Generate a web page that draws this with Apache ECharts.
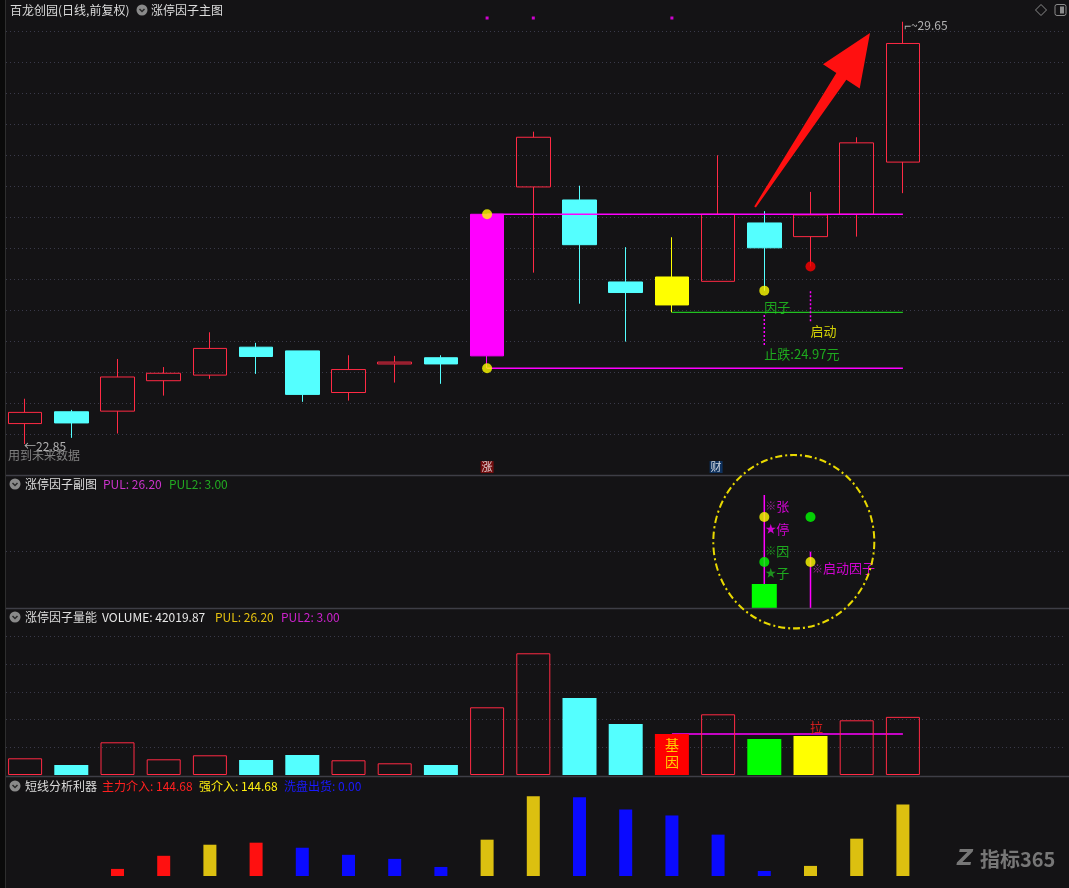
<!DOCTYPE html>
<html><head><meta charset="utf-8">
<script src="https://cdn.jsdelivr.net/npm/echarts@6/dist/echarts.min.js"></script>
<style>html,body{margin:0;padding:0;background:#141315;}#c{width:1069px;height:888px;}</style>
</head><body><div id="c"></div>
<script>
// ---------- data ----------
const categories = ['D01','D02','D03','D04','D05','D06','D07','D08','D09','D10','D11','D12','D13','D14','D15','D16','D17','D18','D19','D20','F1','F2','F3'];
const kOpen  = [23.18,23.37,23.38,23.87,23.96,24.41,24.35,23.68,24.14,24.24,24.27,26.99,26.78,25.46,25.09,25.47,26.41,26.19,26.55,27.39];
const kClose = [23.36,23.19,23.93,23.99,24.39,24.26,23.65,24.05,24.17,24.14,26.55,27.79,26.06,25.29,25.54,26.55,26.01,26.54,27.70,29.30];
const kLow   = [22.85,22.95,23.02,23.63,23.90,23.98,23.53,23.55,23.84,23.82,24.07,25.61,25.11,24.50,24.97,25.47,25.32,25.71,26.19,26.89];
const kHigh  = [23.58,23.40,24.22,24.09,24.65,24.48,24.35,24.28,24.27,24.28,26.55,27.88,27.01,26.02,26.18,27.50,26.60,26.91,27.79,29.65];
const volume = [12070,7230,23640,11350,14240,10840,14460,10630,8460,7230,48940,87980,55660,36870,29640,43880,26020,28190,39540,42019.87];
const limitUpLine = [null,null,null,null,null,null,null,null,null,null,26.55,26.55,26.55,26.55,26.55,26.55,26.55,26.55,26.55,26.55];
const limitLowLine = [null,null,null,null,null,null,null,null,null,null,24.07,24.07,24.07,24.07,24.07,24.07,24.07,24.07,24.07,24.07];
const stopLine = [null,null,null,null,null,null,null,null,null,null,null,null,null,null,24.97,24.97,24.97,24.97,24.97,24.97];
const volLine = [null,null,null,null,null,null,null,null,null,null,null,null,null,null,29640,29640,29640,29640,29640,29640];
const mainIn   = [null,null,14.3,40.8,null,67.3,null,null,null,null,null,null,null,null,null,null,null,null,null,null];
const strongIn = [null,null,null,null,63.2,null,null,null,null,null,73.4,161.0,null,null,null,null,null,20.4,75.4,144.68];
const washOut  = [null,null,null,null,null,null,57.1,42.8,34.6,18.3,null,null,159.0,134.5,122.3,83.6,10.2,null,null,null];
const sub1Bar = [null,null,null,null,null,null,null,null,null,null,null,null,null,null,null,null,3.0,null,null,null];
const yellowDots = [[10,26.55],[10,24.07],[16,25.32]];
const redDots = [[17,25.71]];
const topMarks = [[10,29.71],[11,29.71],[14,29.71]];
const arrowData = [15.80,26.667,18.288,29.469];

// ---------- styles ----------
const RED='#ff2a44', CYAN='#54ffff', MAG='#ff00ff', YEL='#ffff00', GRN='#00ff00', BG='#141315', GRIDC='#3a3a4a';
const FONT = '"Noto Sans CJK SC","Noto Sans",sans-serif';
const L = 2, W = 1062.6;

const candleData = kOpen.map((o,i)=>{
  const it = {value:[o,kClose[i],kLow[i],kHigh[i]]};
  if(i===10) it.itemStyle={color:MAG,color0:MAG,borderColor:MAG,borderColor0:MAG};
  if(i===14) it.itemStyle={color:YEL,color0:YEL,borderColor:YEL,borderColor0:YEL};
  return it;
});
const volData = volume.map((v,i)=>{
  const up = kClose[i]>=kOpen[i];
  let st = up ? {color:'transparent',borderColor:RED,borderWidth:1} : {color:CYAN,borderColor:CYAN,borderWidth:0};
  if(i===14) st={color:'#ff0000',borderWidth:0};
  if(i===16) st={color:GRN,borderWidth:0};
  if(i===17) st={color:YEL,borderWidth:0};
  return {value:v,itemStyle:st};
});

function txt(x,y,pt,fmt,color,size,opt){
  return Object.assign({name:'t',type:'scatter',xAxisIndex:x,yAxisIndex:y,symbolSize:0,silent:true,z:8,
    data:[pt],label:{show:true,position:'right',distance:0,formatter:fmt,color:color,fontSize:size||13,fontFamily:FONT}},opt||{});
}
const dotted = {type:[1,3],color:GRIDC,width:1};

// ---------- graphic (headers / decor) ----------
const headers = [
 [10,10,'百龙创园(日线,前复权)','#dcdcdc'],[151,10,'涨停因子主图','#dcdcdc'],
 [25,484,'涨停因子副图','#dcdcdc'],[103,484,'PUL: 26.20','#cc33cc'],[169,484,'PUL2: 3.00','#22aa22'],
 [25,617,'涨停因子量能','#dcdcdc'],[102,617,'VOLUME: 42019.87','#e8e8e8'],[215,617,'PUL: 26.20','#e6c210'],[281,617,'PUL2: 3.00','#cc22cc'],
 [25,786,'短线分析利器','#dcdcdc'],[102,786,'主力介入: 144.68','#ff2020'],[199,786,'强介入: 144.68','#ffee10'],[284,786,'洗盘出货: 0.00','#1a1aff']
];
const graphic = [];
graphic.push({type:'rect',shape:{x:0,y:0,width:5,height:888},style:{fill:'#0a0a0a'},z:100});
graphic.push({type:'line',shape:{x1:5.5,y1:0,x2:5.5,y2:888},style:{stroke:'#2e2e2e',lineWidth:1},z:100});
[475.5,608.5,776.5].forEach(y=>graphic.push({type:'line',shape:{x1:6,y1:y,x2:1069,y2:y},style:{stroke:'#3e3e46',lineWidth:1.5},z:100}));
headers.forEach(h=>graphic.push({type:'text',x:h[0],y:h[1],style:{text:h[2],fill:h[3],font:'12px '+FONT,verticalAlign:'middle'},z:101}));
[[142,10],[15,484],[15,617],[15,786]].forEach(c=>{
  graphic.push({type:'circle',shape:{cx:c[0],cy:c[1],r:5.5},style:{fill:'#8a8a8a'},z:101});
  graphic.push({type:'polyline',shape:{points:[[c[0]-2.5,c[1]-1],[c[0],c[1]+1.5],[c[0]+2.5,c[1]-1]]},style:{stroke:'#2a2a2a',lineWidth:1.5,fill:null},z:102});
});
graphic.push({type:'polygon',shape:{points:[[1041,4.5],[1046.5,10],[1041,15.5],[1035.5,10]]},style:{stroke:'#8a8a8a',fill:null,lineWidth:1},z:101});
graphic.push({type:'rect',shape:{x:1055,y:4.5,width:11,height:11,r:2},style:{stroke:'#8a8a8a',fill:null,lineWidth:1},z:101});
graphic.push({type:'rect',shape:{x:1060,y:6.5,width:4,height:7},style:{fill:'#8a8a8a'},z:101});
graphic.push({type:'text',x:8,y:455,style:{text:'用到未来数据',fill:'#808080',font:'12px '+FONT,verticalAlign:'middle'},z:101});
graphic.push({type:'circle',shape:{cx:0,cy:0,r:80.5},x:793.8,y:541.7,scaleY:1.077,style:{stroke:'#e8d800',fill:null,lineWidth:2,lineDash:[7,3,2,3]},z:101});
graphic.push({type:'text',x:957,y:859,style:{text:'Z',fill:'#777',font:'bold italic 22px "DejaVu Sans"',verticalAlign:'middle'},z:101});
graphic.push({type:'text',x:980,y:859,style:{text:'指标365',fill:'#777',font:'bold 20px '+FONT,verticalAlign:'middle'},z:101});

// ---------- option ----------
const hid = {axisLine:{show:false},axisTick:{show:false},axisLabel:{show:false}};
const option = {
  backgroundColor: BG, animation:false,
  grid:[
    {left:L,width:W,top:0,height:465.8},
    {left:L,width:W,top:476,height:132},
    {left:L,width:W,top:609,height:166},
    {left:L,width:W,top:777,height:99}
  ],
  xAxis:[
    Object.assign({type:'category',data:categories,gridIndex:0,boundaryGap:true,splitLine:{show:false}},hid),
    Object.assign({type:'value',gridIndex:0,min:-0.5,max:22.5,splitLine:{show:false}},hid),
    Object.assign({type:'category',data:categories,gridIndex:1,splitLine:{show:false}},hid),
    Object.assign({type:'category',data:categories,gridIndex:2,splitLine:{show:false}},hid),
    Object.assign({type:'category',data:categories,gridIndex:3,splitLine:{show:false}},hid)
  ],
  yAxis:[
    Object.assign({type:'value',gridIndex:0,min:22.5,max:30,interval:0.5,splitLine:{show:true,showMinLine:false,showMaxLine:false,lineStyle:dotted}},hid),
    Object.assign({type:'value',gridIndex:1,min:0,max:16.5,splitLine:{show:false}},hid),
    Object.assign({type:'value',gridIndex:2,min:0,max:120000,interval:20000,splitLine:{show:true,showMinLine:false,showMaxLine:false,lineStyle:dotted}},hid),
    Object.assign({type:'value',gridIndex:3,min:0,max:200,splitLine:{show:false}},hid)
  ],
  graphic: graphic,
  series:[
    {type:'candlestick',xAxisIndex:0,yAxisIndex:0,data:candleData,barWidth:34,z:2,
      itemStyle:{color:'transparent',color0:CYAN,borderColor:RED,borderColor0:CYAN,borderWidth:1}},
    {type:'line',xAxisIndex:0,yAxisIndex:0,data:limitUpLine,symbol:'none',lineStyle:{color:MAG,width:1.5},z:4,silent:true},
    {type:'line',xAxisIndex:0,yAxisIndex:0,data:limitLowLine,symbol:'none',lineStyle:{color:MAG,width:1.5},z:4,silent:true},
    {type:'line',xAxisIndex:0,yAxisIndex:0,data:stopLine,symbol:'none',lineStyle:{color:'#20c020',width:1.2},z:4,silent:true},
    {type:'line',xAxisIndex:0,yAxisIndex:0,data:[[16,24.93],[16,24.43]],symbol:'none',lineStyle:{color:MAG,width:1.5,type:[2,2]},z:4,silent:true},
    {type:'line',xAxisIndex:0,yAxisIndex:0,data:[[17,25.31],[17,24.80]],symbol:'none',lineStyle:{color:MAG,width:1.5,type:[2,2]},z:4,silent:true},
    {type:'scatter',xAxisIndex:0,yAxisIndex:0,data:yellowDots,symbolSize:10,itemStyle:{color:YEL},z:6,silent:true},
    {type:'scatter',xAxisIndex:0,yAxisIndex:0,data:redDots,symbolSize:10,itemStyle:{color:'#ff0000'},z:6,silent:true},
    {type:'scatter',xAxisIndex:0,yAxisIndex:0,data:topMarks,symbol:'rect',symbolSize:3,itemStyle:{color:MAG},z:6,silent:true},
    txt(0,0,[16,25.057],'因子','#20d020',13),
    txt(0,0,[17,24.67],'启动',YEL,13),
    txt(0,0,[16,24.30],'止跌:24.97元','#20d020',13),
    txt(0,0,[0,22.85],'←22.85','#d8d8d8',12,{label:{show:true,position:'right',distance:0,offset:[-1,2],formatter:'←22.85',color:'#d8d8d8',fontSize:12,fontFamily:FONT}}),
    txt(0,0,[19,29.65],'⌐~29.65','#d8d8d8',12,{label:{show:true,position:'right',distance:1,offset:[0,4],formatter:'⌐~29.65',color:'#d8d8d8',fontSize:12,fontFamily:FONT}}),
    txt(0,0,[10,22.52],'涨','#fff',11,{label:{show:true,position:'inside',offset:[0,2.5],formatter:'涨',color:'#fff',fontSize:11,fontFamily:FONT,backgroundColor:'#8a0c0c',padding:[1,1,0,1]}}),
    txt(0,0,[15,22.52],'财','#fff',11,{label:{show:true,position:'inside',offset:[-2,2.5],formatter:'财',color:'#fff',fontSize:11,fontFamily:FONT,backgroundColor:'#0c3a70',padding:[1,1,0,1]}}),
    {type:'custom',xAxisIndex:1,yAxisIndex:0,z:10,silent:true,data:[arrowData],
      renderItem:function(params,api){
        const s=api.coord([api.value(0),api.value(1)]), t=api.coord([api.value(2),api.value(3)]);
        const dx=t[0]-s[0], dy=t[1]-s[1], len=Math.hypot(dx,dy);
        const ux=dx/len, uy=dy/len, nx=-uy, ny=ux;
        const hl=52, hw=22, w0=1, w1=6;
        const bx=t[0]-ux*hl, by=t[1]-uy*hl;
        const pts=[[s[0]+nx*w0,s[1]+ny*w0],[bx+nx*w1,by+ny*w1],[bx+nx*hw,by+ny*hw],[t[0],t[1]],[bx-nx*hw,by-ny*hw],[bx-nx*w1,by-ny*w1],[s[0]-nx*w0,s[1]-ny*w0]];
        return {type:'polygon',shape:{points:pts},style:{fill:'#ff1010'}};
      }},
    // sub panel 1
    {type:'bar',xAxisIndex:2,yAxisIndex:1,data:sub1Bar,barWidth:25,itemStyle:{color:GRN},z:3,silent:true,
      markLine:{symbol:'none',silent:true,label:{show:false},lineStyle:dotted,data:[{yAxis:7.125}]}},
    {type:'line',xAxisIndex:2,yAxisIndex:1,data:[[16,14.125],[16,3]],symbol:'none',lineStyle:{color:MAG,width:1.5},z:4,silent:true},
    {type:'line',xAxisIndex:2,yAxisIndex:1,data:[[17,7.125],[17,0]],symbol:'none',lineStyle:{color:MAG,width:1.5},z:4,silent:true},
    {type:'scatter',xAxisIndex:2,yAxisIndex:1,data:[[16,11.375],[17,5.75]],symbolSize:10,itemStyle:{color:YEL},z:6,silent:true},
    {type:'scatter',xAxisIndex:2,yAxisIndex:1,data:[[17,11.375],[16,5.75]],symbolSize:10,itemStyle:{color:GRN},z:6,silent:true},
    txt(2,1,[16,12.75],'{a|※}{b|张}',MAG,13,{label:{show:true,position:'right',distance:1,formatter:'{a|※}{b|张}',rich:{a:{color:'#b22fb2',fontSize:11,fontFamily:FONT},b:{color:MAG,fontSize:13,fontFamily:FONT}}}}),
    txt(2,1,[16,9.84],'{a|★}{b|停}',MAG,13,{label:{show:true,position:'right',distance:1,formatter:'{a|★}{b|停}',rich:{a:{color:MAG,fontSize:11,fontFamily:FONT},b:{color:MAG,fontSize:13,fontFamily:FONT}}}}),
    txt(2,1,[16,7.125],'{a|※}{b|因}',GRN,13,{label:{show:true,position:'right',distance:1,formatter:'{a|※}{b|因}',rich:{a:{color:'#20b020',fontSize:11,fontFamily:FONT},b:{color:'#20d020',fontSize:13,fontFamily:FONT}}}}),
    txt(2,1,[16,4.34],'{a|★}{b|子}',GRN,13,{label:{show:true,position:'right',distance:1,formatter:'{a|★}{b|子}',rich:{a:{color:'#20b020',fontSize:11,fontFamily:FONT},b:{color:'#20d020',fontSize:13,fontFamily:FONT}}}}),
    txt(2,1,[17,4.96],'{a|※}{b|启动因子}',MAG,13,{label:{show:true,position:'right',distance:1.5,formatter:'{a|※}{b|启动因子}',rich:{a:{color:'#b22fb2',fontSize:11,fontFamily:FONT},b:{color:MAG,fontSize:13,fontFamily:FONT}}}}),
    // sub panel 2 (volume)
    {type:'line',xAxisIndex:3,yAxisIndex:2,data:volLine,symbol:'none',lineStyle:{color:MAG,width:1.5},z:2,silent:true},
    {type:'bar',xAxisIndex:3,yAxisIndex:2,data:volData,barWidth:34,z:3,silent:true},
    txt(3,2,[17,34700],'拉','#ff2020',13,{label:{show:true,position:'inside',offset:[6,0],formatter:'拉',color:'#ff2020',fontSize:13,fontFamily:FONT}}),
    txt(3,2,[14,15900],'基\n因',YEL,14,{z:9,label:{show:true,position:'inside',formatter:'基\n因',color:YEL,fontSize:14,lineHeight:17,fontFamily:FONT}}),
    // sub panel 3
    {type:'bar',xAxisIndex:4,yAxisIndex:3,data:mainIn,barWidth:13,barGap:'-100%',itemStyle:{color:'#ff1010'},z:3,silent:true},
    {type:'bar',xAxisIndex:4,yAxisIndex:3,data:strongIn,barWidth:13,barGap:'-100%',itemStyle:{color:'#dcc010'},z:3,silent:true},
    {type:'bar',xAxisIndex:4,yAxisIndex:3,data:washOut,barWidth:13,barGap:'-100%',itemStyle:{color:'#0a0aff'},z:3,silent:true}
  ]
};
const chart = echarts.init(document.getElementById('c'));
chart.setOption(option);
</script>
</body></html>
